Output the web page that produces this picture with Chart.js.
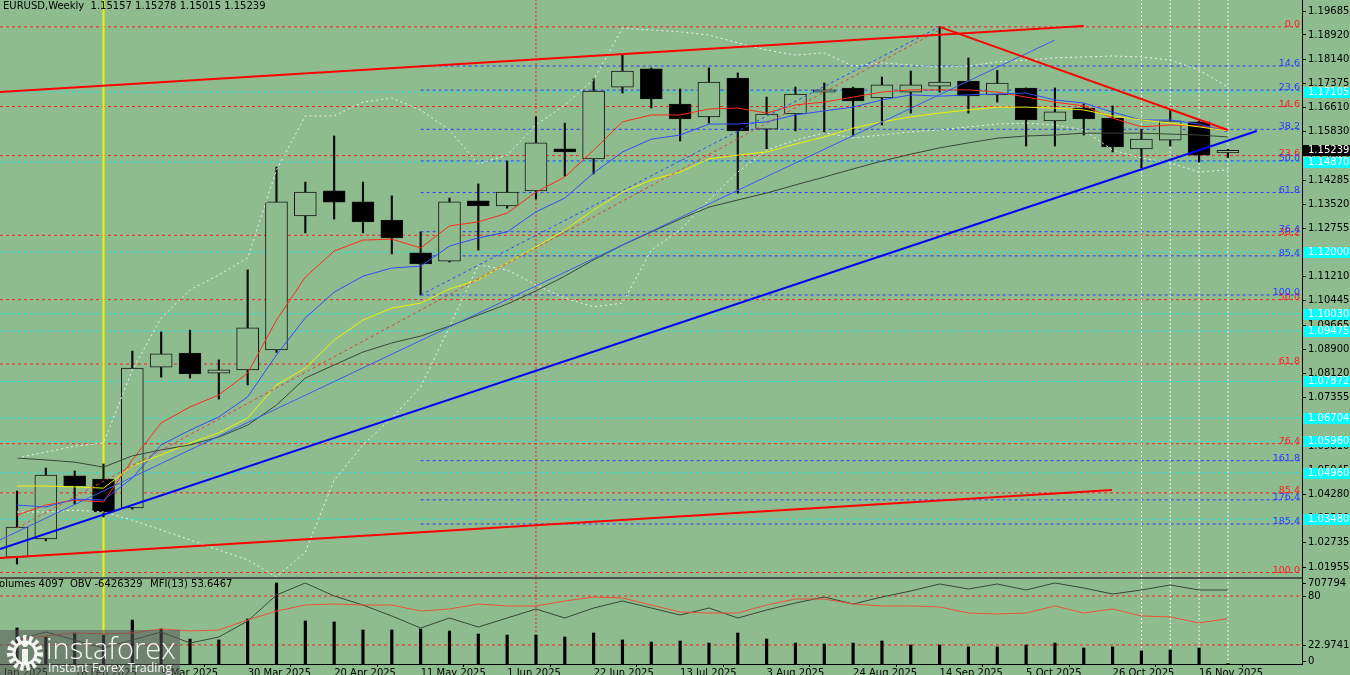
<!DOCTYPE html>
<html>
<head>
<meta charset="utf-8">
<title>EURUSD Weekly</title>
<script src="https://cdn.jsdelivr.net/npm/chart.js@4.4.1/dist/chart.umd.min.js"></script>
<style>
  html, body { margin:0; padding:0; background:#8fbc8f; overflow:hidden; }
  .pane { position:absolute; left:0; width:1350px; }
  #pricePane { top:0; height:577px; }
  #indPane { top:577px; height:98px; }
</style>
</head>
<body>
<div class="pane" id="pricePane"><canvas id="priceChart"></canvas></div>
<div class="pane" id="indPane"><canvas id="indChart"></canvas></div>
<script>
// ---- weekly bars, 2 Feb 2025 .. 23 Nov 2025 ----
const weeks = ['2 Feb 2025','9 Feb 2025','16 Feb 2025','23 Feb 2025','2 Mar 2025','9 Mar 2025','16 Mar 2025','23 Mar 2025',
  '30 Mar 2025','6 Apr 2025','13 Apr 2025','20 Apr 2025','27 Apr 2025','4 May 2025','11 May 2025','18 May 2025','25 May 2025',
  '1 Jun 2025','8 Jun 2025','15 Jun 2025','22 Jun 2025','29 Jun 2025','6 Jul 2025','13 Jul 2025','20 Jul 2025','27 Jul 2025',
  '3 Aug 2025','10 Aug 2025','17 Aug 2025','24 Aug 2025','31 Aug 2025','7 Sep 2025','14 Sep 2025','21 Sep 2025','28 Sep 2025',
  '5 Oct 2025','12 Oct 2025','19 Oct 2025','26 Oct 2025','2 Nov 2025','9 Nov 2025','16 Nov 2025','23 Nov 2025'];
const prevWeek = '26 Jan 2025';
const labelWeeks = [-1, 2, 5, 8, 11, 14, 17, 20, 23, 26, 29, 32, 35, 38, 41];

const opens  = [1.0227,1.0285,1.0486,1.0476,1.0384,1.0833,1.0878,1.0814,1.0824,1.0888,1.1315,1.1395,1.1360,1.1302,1.1197,1.1171,1.1363,1.1347,1.1395,1.1529,1.1497,1.1726,1.1784,1.1672,1.1631,1.1755,1.1592,1.1640,1.1710,1.1723,1.1691,1.1710,1.1729,1.1745,1.1701,1.1723,1.1618,1.1659,1.1627,1.1529,1.1557,1.1615,1.15157];
const highs  = [1.0438,1.0511,1.0502,1.0524,1.0884,1.0945,1.0951,1.0856,1.1143,1.1471,1.1423,1.1570,1.1423,1.1379,1.1264,1.1372,1.1417,1.1490,1.1631,1.1611,1.1752,1.1828,1.1787,1.1720,1.1787,1.1771,1.1694,1.1726,1.1739,1.1726,1.1758,1.1777,1.1918,1.1819,1.1779,1.1723,1.1723,1.1672,1.1666,1.1592,1.1653,1.1618,1.15278];
const lows   = [1.0205,1.0279,1.0396,1.0355,1.0380,1.0801,1.0798,1.0731,1.0776,1.0880,1.1261,1.1305,1.1261,1.1194,1.1063,1.1168,1.1206,1.1340,1.1369,1.1442,1.1449,1.1707,1.1659,1.1554,1.1611,1.1388,1.1529,1.1586,1.1580,1.1570,1.1605,1.1643,1.1710,1.1643,1.1678,1.1538,1.1538,1.1573,1.1519,1.1468,1.1538,1.1487,1.15015];
const closes = [1.0323,1.0489,1.0454,1.0371,1.0830,1.0875,1.0811,1.0824,1.0958,1.1360,1.1391,1.1359,1.1296,1.1245,1.1162,1.1360,1.1347,1.1391,1.1548,1.1519,1.1713,1.1777,1.1688,1.1624,1.1742,1.1586,1.1640,1.1704,1.1717,1.1682,1.1733,1.1733,1.1742,1.1698,1.1739,1.1621,1.1647,1.1624,1.1535,1.1560,1.1618,1.1509,1.15239];

// moving averages and bands
const maRed    = [1.0361,1.0393,1.0409,1.0403,1.0537,1.0655,1.0706,1.0744,1.0814,1.0983,1.1120,1.1203,1.1238,1.1241,1.1213,1.1283,1.1296,1.1324,1.1391,1.1439,1.1525,1.1615,1.1637,1.1637,1.1656,1.1659,1.1643,1.1669,1.1678,1.1694,1.1710,1.1717,1.1717,1.1717,1.1710,1.1694,1.1678,1.1666,1.1627,1.1599,1.1605,1.1602,1.1589];
const maBlue   = [1.0393,1.0387,1.0412,1.0409,1.0479,1.0585,1.0632,1.0674,1.0738,1.0872,1.0990,1.1072,1.1123,1.1149,1.1155,1.1219,1.1245,1.1264,1.1328,1.1372,1.1452,1.1519,1.1560,1.1573,1.1608,1.1608,1.1615,1.1637,1.1650,1.1662,1.1685,1.1701,1.1697,1.1701,1.1704,1.1707,1.1685,1.1675,1.1646,1.1621,1.1621,1.1608,1.1583];
const maYellow = [1.0454,1.0454,1.0451,1.0447,1.0518,1.0553,1.0591,1.0623,1.0671,1.0776,1.0830,1.0919,1.0983,1.1021,1.1037,1.1082,1.1111,1.1165,1.1216,1.1270,1.1334,1.1391,1.1430,1.1455,1.1497,1.1509,1.1519,1.1544,1.1567,1.1595,1.1615,1.1631,1.1643,1.1653,1.1662,1.1662,1.1659,1.1653,1.1634,1.1621,1.1611,1.1599,1.1586];
const maGray   = [1.0543,1.0537,1.0530,1.0514,1.0550,1.0569,1.0585,1.0610,1.0648,1.0712,1.0798,1.0840,1.0881,1.0910,1.0932,1.0964,1.0999,1.1034,1.1076,1.1123,1.1175,1.1222,1.1264,1.1305,1.1343,1.1366,1.1388,1.1414,1.1439,1.1465,1.1490,1.1512,1.1532,1.1548,1.1563,1.1570,1.1573,1.1579,1.1579,1.1579,1.1576,1.1573,1.1567];
const bandUp   = [1.0543,1.0562,1.0581,1.0591,1.0824,1.0990,1.1079,1.1127,1.1181,1.1462,1.1634,1.1634,1.1678,1.1691,1.1653,1.1589,1.1481,1.1509,1.1605,1.1669,1.1749,1.1914,1.1908,1.1902,1.1892,1.1867,1.1844,1.1828,1.1835,1.1793,1.1803,1.1796,1.1790,1.1793,1.1806,1.1812,1.1819,1.1822,1.1825,1.1822,1.1812,1.1780,1.1726];
const bandDn   = [1.0371,1.0371,1.0377,1.0371,1.0345,1.0314,1.0282,1.0250,1.0218,1.0164,1.0243,1.0473,1.0585,1.0671,1.0770,1.0961,1.1159,1.1143,1.1095,1.1053,1.1025,1.1037,1.1206,1.1270,1.1366,1.1455,1.1525,1.1557,1.1580,1.1564,1.1573,1.1583,1.1589,1.1599,1.1608,1.1611,1.1605,1.1589,1.1525,1.1500,1.1484,1.1455,1.1462];

// indicator window
const volumes = [315000,236000,271000,253000,384000,306000,218000,210000,393000,707794,376000,367000,297000,297000,306000,288000,262000,253000,253000,236000,271000,210000,192000,201000,183000,271000,218000,183000,175000,183000,201000,166000,166000,149000,149000,166000,183000,140000,149000,114000,122000,140000,4097];
const obv = [-7776000,-7560000,-7776000,-7992000,-7776000,-7560000,-7857000,-7695000,-7263000,-6561000,-6237000,-6588000,-6831000,-7128000,-7452000,-7182000,-7425000,-7182000,-6939000,-7182000,-6912000,-6723000,-6912000,-7101000,-6912000,-7182000,-6966000,-6777000,-6615000,-6804000,-6615000,-6453000,-6264000,-6399000,-6264000,-6426000,-6237000,-6372000,-6534000,-6426000,-6291000,-6426000,-6426329];
const mfi = [28.8,33.4,36.9,35.8,36.9,41.6,39.3,40.4,52.1,62.5,69.5,70.7,69.5,69.5,62.5,64.9,70.7,68.4,68.4,74.2,78.8,77.7,69.5,61.4,60.2,60.2,69.5,76.5,76.5,70.7,68.4,68.4,67.2,60.2,59.0,60.2,68.4,60.2,64.9,56.7,55.6,48.6,53.6467];
const mfiLevels = [80, 22.9741];

// horizontal levels
const priceTicks = [1.19685,1.18920,1.18140,1.17375,1.16610,1.15830,1.15065,1.14285,1.13520,1.12755,1.11990,1.11210,1.10445,1.09665,1.08900,1.08120,1.07355,1.06590,1.05810,1.05045,1.04280,1.03500,1.02735,1.01955];
const cyanLevels = [1.17105,1.14870,1.12000,1.10030,1.09475,1.07872,1.06704,1.05960,1.04960,1.03480];
const fibHigh = 1.1918;
const redFibLow = 1.0178;
const blueFibLow = 1.1063;
const redFibRatios = [0, 14.6, 23.6, 38.2, 50, 61.8, 76.4, 85.4, 100];
const blueFibRatios = [14.6, 23.6, 38.2, 50, 61.8, 76.4, 85.4, 100, 161.8, 176.4, 185.4];

// trend lines [week index, price]
const redUpper    = [[-0.59, 1.1710], [37.0, 1.1921]];
const redLower    = [[-0.59, 1.0224], [37.98, 1.0441]];
const blueSupport = [[-0.59, 1.0253], [43.0, 1.1586]];
const redDown     = [[32, 1.1918], [42, 1.1589]];
const blueChannel = [[-0.59, 1.0282], [36.0, 1.1876]];
const blueFibDiag = [[14, 1.1063], [32, 1.1918]];
const redFibDiag  = [[0, 1.0320], [32, 1.1908]];
const vYellow = 3, vRed = 18, vWhite = [39, 40, 41, 42];

const X_MIN = -0.59, X_MAX = 44.57, FIB_END = 44.5;
const Y_MIN = 1.01637, Y_MAX = 1.20036;
const BG = '#8fbc8f';

Chart.defaults.font.family = '"DejaVu Sans"';
Chart.defaults.font.size = 10;
Chart.defaults.color = '#000';
Chart.defaults.animation = false;

const fib = (lo, r) => fibHigh - (fibHigh - lo) * r / 100;
const series = arr => arr.map((v, i) => ({x: i, y: v}));
function seg(pts, color, width, dash, order, axis) {
  const d = {type: 'line', data: pts.map(([x, y]) => ({x, y})), borderColor: color, borderWidth: width,
    borderDash: dash || [], pointRadius: 0, tension: 0, fill: false, order};
  if (axis) d.yAxisID = axis;
  return d;
}
function curve(arr, color, width, dash, order, axis) {
  const d = {type: 'line', data: series(arr), borderColor: color, borderWidth: width,
    borderDash: dash || [], pointRadius: 0, tension: 0, fill: false, order};
  if (axis) d.yAxisID = axis;
  return d;
}

// ---- price window ----
const priceSets = [];
redFibRatios.forEach(r => priceSets.push(seg([[X_MIN, fib(redFibLow, r)], [FIB_END, fib(redFibLow, r)]], '#ff1e1e', 1, [3, 3], 30)));
blueFibRatios.forEach(r => priceSets.push(seg([[14, fib(blueFibLow, r)], [FIB_END, fib(blueFibLow, r)]], '#2a3cff', 1, [3, 3], 30)));
cyanLevels.forEach(v => priceSets.push(seg([[X_MIN, v], [X_MAX, v]], 'rgba(0,240,240,0.85)', 1, [3, 3], 30)));
priceSets.push(seg([[vYellow, Y_MIN], [vYellow, Y_MAX]], '#f2f200', 2, [], 25));
priceSets.push(seg([[vRed, Y_MIN], [vRed, Y_MAX]], '#ff1e1e', 1, [2, 2], 25));
vWhite.forEach(v => priceSets.push(seg([[v, Y_MIN], [v, Y_MAX]], '#f4f4f4', 1, [2, 2], 25)));

priceSets.push({type: 'bar', data: weeks.map((w, i) => ({x: i, y: [lows[i], highs[i]]})),
  backgroundColor: '#0c0c0c', borderWidth: 0, barThickness: 1.5, grouped: false, order: 20});
priceSets.push({type: 'bar', data: weeks.map((w, i) => ({x: i, y: [opens[i], closes[i]]})),
  backgroundColor: weeks.map((w, i) => closes[i] >= opens[i] ? BG : '#000'),
  borderColor: '#151515', borderWidth: 1, borderSkipped: false, barThickness: 22, grouped: false, order: 19});

priceSets.push(curve(bandUp, '#eef0ee', 1, [2, 3], 12));
priceSets.push(curve(bandDn, '#eef0ee', 1, [2, 3], 12));
priceSets.push(curve(maGray, '#394539', 1, [], 11));
priceSets.push(curve(maYellow, '#f0f000', 1, [], 11));
priceSets.push(curve(maBlue, '#2f4cff', 1, [], 11));
priceSets.push(curve(maRed, '#ff2a1a', 1, [], 11));
priceSets.push(seg(redFibDiag, '#e0403a', 1, [3, 3], 10));
priceSets.push(seg(blueFibDiag, '#3048ff', 1, [3, 3], 10));
priceSets.push(seg(blueChannel, '#3c5cf0', 1, [], 9));
priceSets.push(seg(redUpper, '#ff0000', 2, [], 8));
priceSets.push(seg(redLower, '#ff0000', 2, [], 8));
priceSets.push(seg(redDown, '#ff0000', 2, [], 8));
priceSets.push(seg(blueSupport, '#0000ff', 2, [], 8));

const priceOverlay = {
  id: 'priceOverlay',
  afterDraw(chart) {
    const {ctx, chartArea: a, scales: {x, y}} = chart;
    ctx.save();
    // fibo labels
    ctx.font = '9.5px "DejaVu Sans"';
    ctx.textAlign = 'right';
    ctx.textBaseline = 'alphabetic';
    const xr = x.getPixelForValue(FIB_END);
    ctx.fillStyle = '#ff1e1e';
    redFibRatios.forEach(r => ctx.fillText(r.toFixed(1), xr, y.getPixelForValue(fib(redFibLow, r))));
    ctx.fillStyle = '#2a3cff';
    blueFibRatios.forEach(r => ctx.fillText(r.toFixed(1), xr, y.getPixelForValue(fib(blueFibLow, r))));
    // header
    ctx.font = '10px "DejaVu Sans"';
    ctx.textAlign = 'left';
    ctx.fillStyle = '#000';
    const n = closes.length - 1;
    ctx.fillText('EURUSD,Weekly  ' + [opens[n], highs[n], lows[n], closes[n]].map(v => v.toFixed(5)).join(' '), 3, 9);
    // axis boxes
    ctx.textBaseline = 'middle';
    cyanLevels.forEach(v => {
      const py = Math.round(y.getPixelForValue(v));
      ctx.fillStyle = '#00ffff';
      ctx.fillRect(a.right + 1, py - 5, 48, 11);
      ctx.fillStyle = '#ffffff';
      ctx.fillText(v.toFixed(5), a.right + 6, py + 0.5);
    });
    const pc = Math.round(y.getPixelForValue(closes[n]));
    ctx.fillStyle = '#000';
    ctx.fillRect(a.right + 1, pc - 5, 48, 11);
    ctx.fillStyle = '#fff';
    ctx.fillText(closes[n].toFixed(5), a.right + 6, pc + 0.5);
    ctx.restore();
  }
};

new Chart(document.getElementById('priceChart'), {
  type: 'bar',
  data: {datasets: priceSets},
  options: {
    responsive: true, maintainAspectRatio: false, devicePixelRatio: 1,
    layout: {padding: 0},
    plugins: {legend: {display: false}, tooltip: {enabled: false}},
    scales: {
      x: {type: 'linear', min: X_MIN, max: X_MAX, offset: false, display: false},
      y: {
        type: 'linear', position: 'right', min: Y_MIN, max: Y_MAX,
        grid: {drawOnChartArea: false, drawTicks: true, tickLength: 4, color: '#000'},
        border: {display: true, color: '#000', width: 1},
        ticks: {autoSkip: false, padding: 2, color: '#000', font: {size: 10}, callback: v => v.toFixed(5)},
        afterBuildTicks: s => { s.ticks = priceTicks.map(v => ({value: v})); },
        afterFit: s => { s.width = 48; s.paddingTop = 0; s.paddingBottom = 0; }
      }
    }
  },
  plugins: [priceOverlay]
});

// ---- indicator window ----
const MFI_MIN = 0.8, MFI_MAX = 99.8;
const indSets = [];
mfiLevels.forEach(v => indSets.push(seg([[X_MIN, v], [X_MAX, v]], '#ff1e1e', 1, [3, 3], 30, 'yMfi')));
indSets.push(seg([[vYellow, MFI_MIN], [vYellow, MFI_MAX]], '#f2f200', 2, [], 25, 'yMfi'));
indSets.push(seg([[vRed, MFI_MIN], [vRed, MFI_MAX]], '#ff1e1e', 1, [2, 2], 25, 'yMfi'));
vWhite.forEach(v => indSets.push(seg([[v, MFI_MIN], [v, MFI_MAX]], '#f4f4f4', 1, [2, 2], 25, 'yMfi')));
indSets.push({type: 'bar', data: series(volumes), yAxisID: 'yVol', backgroundColor: '#000',
  borderWidth: 0, barThickness: 2.5, grouped: false, order: 20});
indSets.push(curve(obv, '#394539', 1, [], 10, 'yObv'));
indSets.push(curve(mfi, '#e8513a', 1, [], 9, 'yMfi'));

const indOverlay = {
  id: 'indOverlay',
  afterDraw(chart) {
    const {ctx, chartArea: a, scales} = chart;
    ctx.save();
    ctx.fillStyle = '#4a544a';
    ctx.fillRect(0, 0, a.right + 1, 2);
    ctx.fillStyle = '#000';
    ctx.fillRect(a.right, 0, 1, a.bottom + 1);
    ctx.font = '10px "DejaVu Sans"';
    ctx.textAlign = 'left';
    ctx.textBaseline = 'middle';
    const vmax = Math.max(...volumes);
    const marks = [
      [scales.yVol.getPixelForValue(vmax), String(vmax)],
      [scales.yMfi.getPixelForValue(mfiLevels[0]), String(mfiLevels[0])],
      [scales.yMfi.getPixelForValue(mfiLevels[1]), String(mfiLevels[1])],
      [scales.yVol.getPixelForValue(0) - 3, '0']
    ];
    marks.forEach(([py, t]) => { ctx.fillRect(a.right, Math.round(py), 4, 1); ctx.fillText(t, a.right + 6, py); });
    const n = volumes.length - 1;
    ctx.fillText('Volumes ' + volumes[n], -7, 7);
    ctx.fillText('OBV ' + obv[n], 70, 7);
    ctx.fillText('MFI(13) ' + mfi[n].toFixed(4), 150, 7);

    // watermark
    ctx.fillStyle = 'rgba(85,85,85,0.55)';
    ctx.fillRect(0, 53, 180, 45);
    ctx.strokeStyle = 'rgba(255,255,255,0.92)';
    ctx.fillStyle = 'rgba(255,255,255,0.92)';
    ctx.lineWidth = 6;
    ctx.setLineDash([3.4, 2.8]);
    ctx.beginPath(); ctx.arc(25, 76, 15, 0, Math.PI * 2); ctx.stroke();
    ctx.setLineDash([]);
    ctx.lineWidth = 3;
    ctx.beginPath(); ctx.arc(25, 76, 11, 0, Math.PI * 2); ctx.stroke();
    ctx.fillRect(22, 72, 6, 15);
    ctx.beginPath(); ctx.arc(25, 67, 3, 0, Math.PI * 2); ctx.fill();
    ctx.textBaseline = 'alphabetic';
    ctx.font = '300 29px "Open Sans"';
    ctx.fillText('instaforex', 46, 82);
    ctx.font = '12.5px "Open Sans"';
    ctx.fillText('Instant Forex Trading', 48, 95);
    ctx.restore();
  }
};

new Chart(document.getElementById('indChart'), {
  type: 'bar',
  data: {datasets: indSets},
  options: {
    responsive: true, maintainAspectRatio: false, devicePixelRatio: 1,
    layout: {padding: {top: 2, right: 48, left: 0, bottom: 0}},
    plugins: {legend: {display: false}, tooltip: {enabled: false}},
    scales: {
      x: {
        type: 'linear', min: X_MIN, max: X_MAX, offset: false,
        grid: {drawOnChartArea: false, drawTicks: true, tickLength: 3, color: '#000'},
        border: {display: true, color: '#000', width: 1},
        ticks: {autoSkip: false, maxRotation: 0, align: 'start', padding: 0, color: '#000', font: {size: 10},
          callback: v => v < 0 ? prevWeek : weeks[v]},
        afterBuildTicks: s => { s.ticks = labelWeeks.map(v => ({value: v})); },
        afterFit: s => { s.height = 11; s.paddingLeft = 0; s.paddingRight = 0; }
      },
      yVol: {type: 'linear', display: false, min: 0, max: 742746},
      yObv: {type: 'linear', display: false, min: -8424000, max: -6129000},
      yMfi: {type: 'linear', display: false, min: MFI_MIN, max: MFI_MAX}
    }
  },
  plugins: [indOverlay]
});
</script>
</body>
</html>
